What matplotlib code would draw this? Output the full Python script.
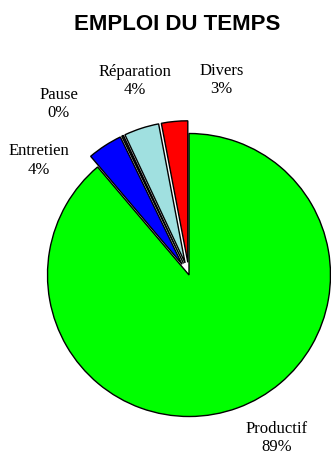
import matplotlib
matplotlib.use("Agg")
import matplotlib.pyplot as plt

# data
categories = ["Productif", "Entretien", "Pause", "Réparation", "Divers"]
values = [89, 4, 0.2, 4, 3]
colors = ["#00FF00", "#0000FF", "#333333", "#A0E0E0", "#FF0000"]
explode = [0, 0.09, 0.09, 0.09, 0.09]

# label centres (pie radius units), Excel-style placement
label_pos = [(0.62, -1.15), (-1.06, 0.81), (-0.92, 1.21), (-0.38, 1.37), (0.23, 1.38)]

W, H = 331, 455
cx, cy, r = 189, 275, 141.5  # pie centre / radius in pixels

fig = plt.figure(figsize=(W / 100, H / 100), dpi=100)
ax = fig.add_axes([0, 0, 1, 1])

wedges, _ = ax.pie(
    values,
    colors=colors,
    explode=explode,
    startangle=90,
    counterclock=False,
    wedgeprops=dict(edgecolor="black", linewidth=1.0),
)

total = sum(values)
for name, v, (x, y) in zip(categories, values, label_pos):
    ax.text(x, y, f"{name}\n{round(100 * v / total):.0f}%", ha="center", va="center",
            family="Liberation Serif", fontsize=12, linespacing=1.2)

ax.set_xlim(-cx / r, (W - cx) / r)
ax.set_ylim(-(H - cy) / r, cy / r)
ax.set_aspect("auto")
ax.axis("off")

fig.text(177.5 / W, 1 - 25 / H, "EMPLOI DU TEMPS", ha="center", va="center",
         family="Liberation Sans", fontweight="bold", fontsize=16)

fig.savefig("out.png", dpi=100)
